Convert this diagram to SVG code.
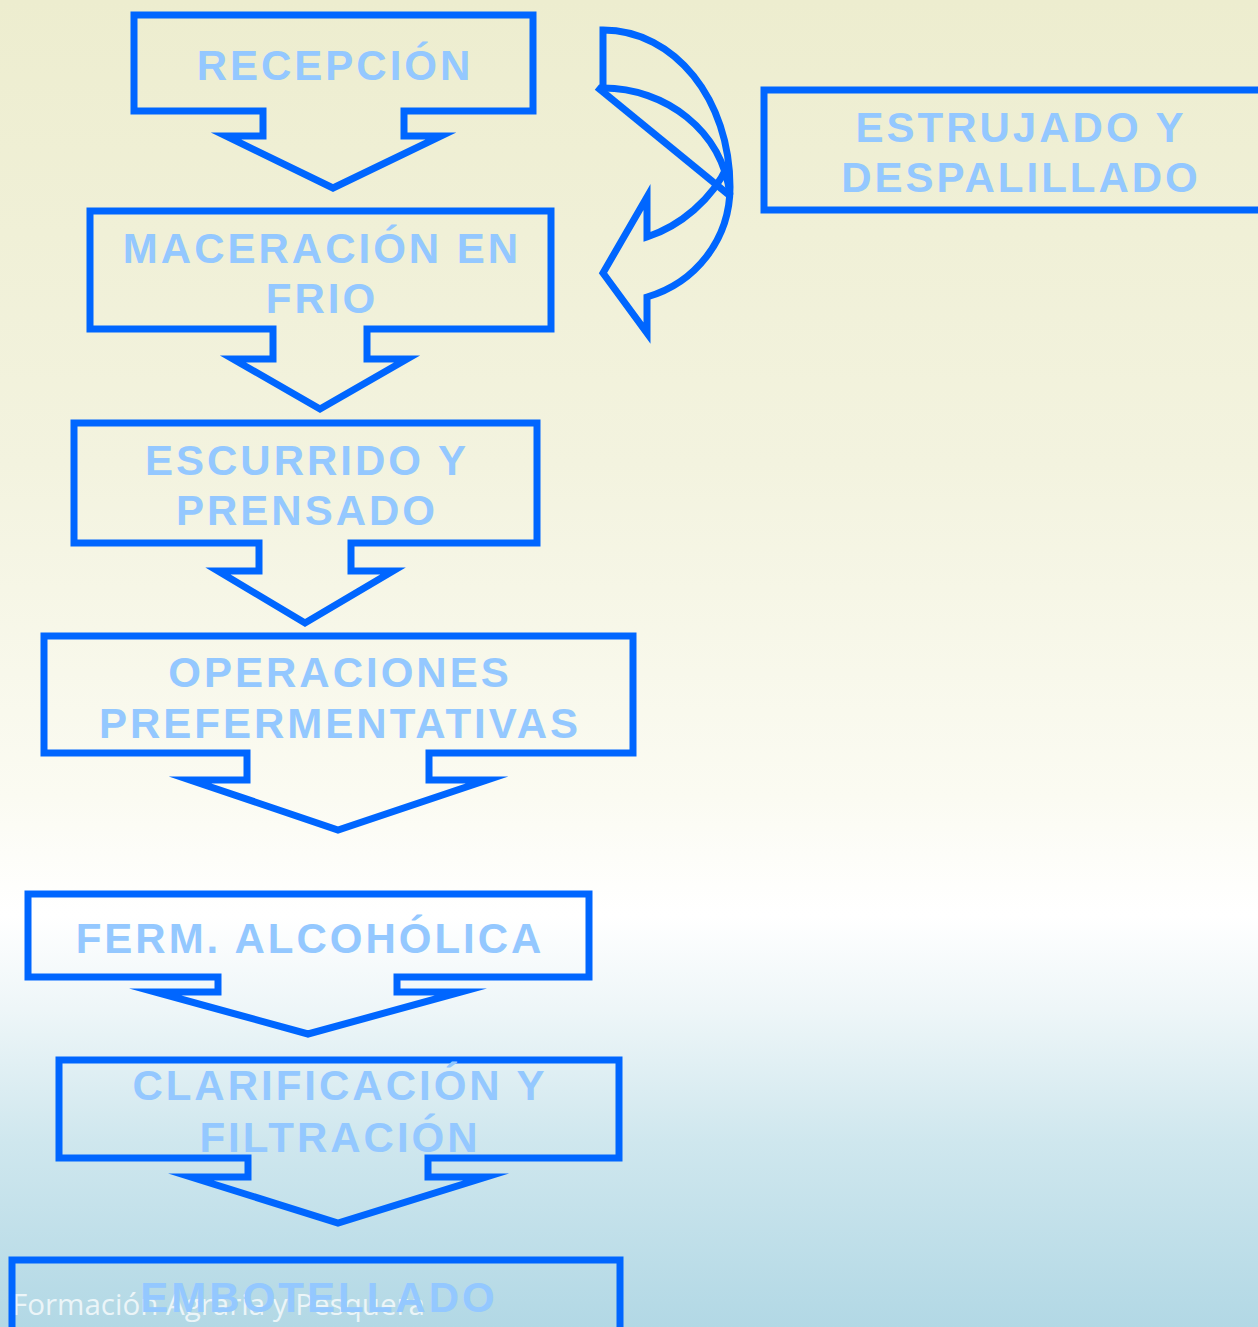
<svg xmlns="http://www.w3.org/2000/svg" width="1258" height="1327" viewBox="0 0 1258 1327">
<defs>
<linearGradient id="bg" x1="0" y1="0" x2="0" y2="1">
<stop offset="0" stop-color="#EDEDCF"/>
<stop offset="0.35" stop-color="#F3F3DF"/>
<stop offset="0.6" stop-color="#FBFBF2"/>
<stop offset="0.69" stop-color="#FFFFFF"/>
<stop offset="0.76" stop-color="#EEF6F8"/>
<stop offset="0.86" stop-color="#CFE7EE"/>
<stop offset="1" stop-color="#B2D8E5"/>
</linearGradient>
</defs>
<style>
.sh{fill:none;stroke:#0066FF;stroke-width:7;stroke-linejoin:miter;stroke-miterlimit:10}
.t{font-family:"Liberation Sans",Arial,sans-serif;font-weight:bold;font-size:42px;letter-spacing:3px;fill:#94C8FF;text-anchor:middle}
.wm{font-family:"Open Sans","Liberation Sans",sans-serif;font-size:30px;fill:#FFFFFF;fill-opacity:0.75}
</style>
<rect x="0" y="0" width="1258" height="1327" fill="url(#bg)"/>
<text class="wm" x="12" y="1315" textLength="413" lengthAdjust="spacingAndGlyphs">Formación Agraria y Pesquera</text>

<g id="recepcion">
<path class="sh" d="M134,15 H533 V111 H404 V136 H441 L333,188 L226,136 H263 V111 H134 Z"/>
<text class="t" x="335" y="80">RECEPCIÓN</text>
</g>
<g id="maceracion">
<path class="sh" d="M90,211 H551 V329 H367 V359 H407 L320,409 L233,359 H273 V329 H90 Z"/>
<text class="t" x="322" y="263">MACERACIÓN EN</text>
<text class="t" x="322" y="313">FRIO</text>
</g>
<g id="escurrido">
<path class="sh" d="M74,423 H537 V543 H351 V571 H393 L305,623 L218,571 H259 V543 H74 Z"/>
<text class="t" x="307" y="475">ESCURRIDO Y</text>
<text class="t" x="307" y="525">PRENSADO</text>
</g>
<g id="operaciones">
<path class="sh" d="M44,636 H633 V753 H429 V780 H487 L338,830 L190,780 H247 V753 H44 Z"/>
<text class="t" x="340" y="687">OPERACIONES</text>
<text class="t" x="340" y="738">PREFERMENTATIVAS</text>
</g>
<g id="ferm">
<path class="sh" d="M28,894 H589 V977 H397 V992 H461 L308,1034 L155,992 H218 V977 H28 Z"/>
<text class="t" x="310" y="953">FERM. ALCOHÓLICA</text>
</g>
<g id="clarificacion">
<path class="sh" d="M59,1060 H619 V1158 H428 V1177 H486 L338,1223 L191,1177 H248 V1158 H59 Z"/>
<text class="t" x="340" y="1100">CLARIFICACIÓN Y</text>
<text class="t" x="340" y="1152">FILTRACIÓN</text>
</g>
<g id="embotellado">
<rect class="sh" x="12" y="1260" width="608" height="80"/>
<text class="t" x="319" y="1312">EMBOTELLADO</text>
</g>
<g id="estrujado">
<rect class="sh" x="764" y="90" width="510" height="120"/>
<text class="t" x="1021" y="142">ESTRUJADO Y</text>
<text class="t" x="1021" y="192">DESPALILLADO</text>
</g>

<g id="connectors">
<path class="sh" d="M603,88 V30 C675,30 730,100 730,187 C730,240 695,283 647,297 V333 L603,273 L647,197 V237 C680,226 712,200 728,165"/>
<path class="sh" d="M603,88 C665,88 722,130 730,195"/>
<path class="sh" d="M597,87 L729,195"/>
</g>
</svg>
